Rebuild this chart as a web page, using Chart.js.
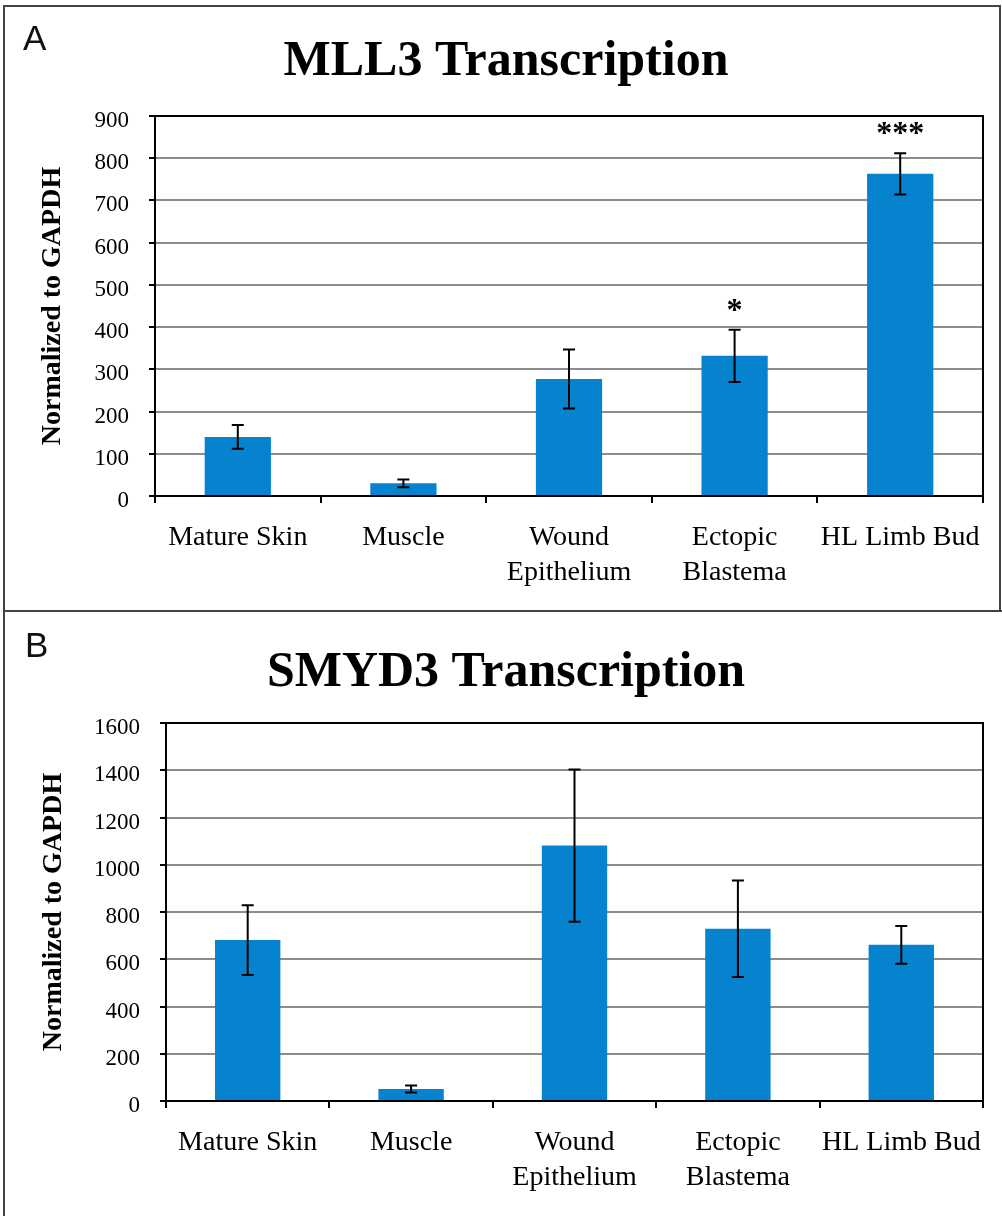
<!DOCTYPE html>
<html>
<head>
<meta charset="utf-8">
<script src="https://cdn.jsdelivr.net/npm/chart.js@4.4.1/dist/chart.umd.min.js"></script>
<style>
    body { margin: 0; background: #fff; width: 1002px; height: 1216px; position: relative; overflow: hidden; }
    .frame { position: absolute; box-sizing: border-box; }
    #frameA { left: 3px; top: 5px; width: 998px; height: 607px; border: 2px solid #444; }
    #frameB { left: 3px; top: 610px; width: 999px; height: 606px; border-left: 2px solid #444; border-top: 2px solid #444; }
    .panel { position: absolute; left: 10px; width: 992px; }
    #panelA { top: 5px; height: 605px; }
    #panelB { top: 612px; height: 604px; }
</style>
</head>
<body>
<div class="frame" id="frameA"></div>
<div class="frame" id="frameB"></div>
<div class="panel" id="panelA"><canvas id="chartA"></canvas></div>
<div class="panel" id="panelB"><canvas id="chartB"></canvas></div>
<script>
'use strict';

// Categories (multi-line labels as arrays)
const categories = [['Mature Skin'], ['Muscle'], ['Wound', 'Epithelium'], ['Ectopic', 'Blastema'], ['HL Limb Bud']];

// Panel A - MLL3
const mll3Values = [140, 30, 277, 332, 763];
const mll3Errors = [28, 9, 70, 62, 49];
const mll3Stars = ['', '', '', '*', '***'];
const mll3Axis = { min: 0, max: 900, step: 100 };

// Panel B - SMYD3
const smyd3Values = [681, 51, 1081, 729, 661];
const smyd3Errors = [148, 15, 322, 204, 80];
const smyd3Stars = ['', '', '', '', ''];
const smyd3Axis = { min: 0, max: 1600, step: 200 };

const SERIF = "'Liberation Serif', 'DejaVu Serif', serif";
const BAR_COLOR = '#0583CF';

/**
 * Draws error bars, significance stars, plot frame and panel letter
 */
const extrasPlugin = {
    id: 'extras',
    afterDatasetsDraw(chart, args, opts) {
        const ctx = chart.ctx;
        const meta = chart.getDatasetMeta(0);
        const y = chart.scales.y;
        const area = chart.chartArea;

        ctx.save();
        ctx.strokeStyle = '#000';
        ctx.lineWidth = 2;

        meta.data.forEach(function(bar, i) {
            const v = opts.values[i];
            const e = opts.errors[i];
            const top = y.getPixelForValue(v + e);
            const bottom = y.getPixelForValue(v - e);
            ctx.beginPath();
            ctx.moveTo(bar.x, top);
            ctx.lineTo(bar.x, bottom);
            ctx.moveTo(bar.x - 6, top);
            ctx.lineTo(bar.x + 6, top);
            ctx.moveTo(bar.x - 6, bottom);
            ctx.lineTo(bar.x + 6, bottom);
            ctx.stroke();

            if (opts.stars[i]) {
                ctx.fillStyle = '#000';
                ctx.font = 'bold 32px ' + SERIF;
                ctx.textAlign = 'center';
                ctx.textBaseline = 'alphabetic';
                ctx.fillText(opts.stars[i], bar.x, top - 10);
            }
        });

        // plot frame
        ctx.strokeRect(area.left, area.top, area.right - area.left, area.bottom - area.top);

        // panel letter
        ctx.fillStyle = '#111';
        ctx.font = "35px 'Liberation Sans', Arial, sans-serif";
        ctx.textAlign = 'left';
        ctx.textBaseline = 'alphabetic';
        ctx.fillText(opts.letter, opts.letterX, 45);
        ctx.restore();
    }
};

function buildChart(canvasId, cfg) {
    return new Chart(document.getElementById(canvasId), {
        type: 'bar',
        data: {
            labels: categories,
            datasets: [{
                data: cfg.values,
                backgroundColor: BAR_COLOR,
                borderWidth: 0,
                barPercentage: 0.4,
                categoryPercentage: 1
            }]
        },
        options: {
            responsive: true,
            maintainAspectRatio: false,
            animation: false,
            layout: { padding: { left: 19, right: 19, top: 0, bottom: 0 } },
            plugins: {
                legend: { display: false },
                tooltip: { enabled: false },
                title: {
                    display: true,
                    text: cfg.title,
                    color: '#000',
                    font: { family: SERIF, size: 50, weight: 'bold', lineHeight: 1.2 },
                    padding: { top: cfg.titleTop, bottom: cfg.titleBottom }
                },
                extras: {
                    values: cfg.values,
                    errors: cfg.errors,
                    stars: cfg.stars,
                    letter: cfg.letter,
                    letterX: cfg.letterX
                }
            },
            scales: {
                x: {
                    afterFit: function(scale) { scale.height = cfg.xHeight; },
                    grid: {
                        offset: true,
                        drawOnChartArea: false,
                        drawTicks: true,
                        tickLength: 7,
                        tickColor: '#000',
                        lineWidth: 2
                    },
                    border: { display: true, color: '#000', width: 2 },
                    ticks: {
                        color: '#000',
                        font: { family: SERIF, size: 28, lineHeight: 1.25 },
                        padding: 17,
                        maxRotation: 0,
                        autoSkip: false
                    }
                },
                y: {
                    min: cfg.axis.min,
                    max: cfg.axis.max,
                    afterFit: function(scale) { scale.width = cfg.yWidth; },
                    grid: {
                        color: '#8c8c8c',
                        lineWidth: 2,
                        tickLength: 6,
                        tickColor: '#000'
                    },
                    border: { display: true, color: '#000', width: 2 },
                    ticks: {
                        stepSize: cfg.axis.step,
                        color: '#000',
                        font: { family: SERIF, size: 23 },
                        padding: 20,
                        labelOffset: 5,
                        callback: function(value) { return String(value); }
                    },
                    title: {
                        display: true,
                        text: 'Normalized to GAPDH',
                        color: '#000',
                        font: { family: SERIF, size: 28, weight: 'bold', lineHeight: 1.2 },
                        padding: { top: cfg.yTitleTop, bottom: 0 }
                    }
                }
            }
        },
        plugins: [extrasPlugin]
    });
}

// y title x = layout left (19) + padding + half line height (16.8)
buildChart('chartA', {
    title: 'MLL3 Transcription',
    values: mll3Values,
    errors: mll3Errors,
    stars: mll3Stars,
    axis: mll3Axis,
    letter: 'A',
    letterX: 13,
    titleTop: 27,
    titleBottom: 24,
    xHeight: 114,
    yWidth: 126,
    yTitleTop: 7
});

buildChart('chartB', {
    title: 'SMYD3 Transcription',
    values: smyd3Values,
    errors: smyd3Errors,
    stars: smyd3Stars,
    axis: smyd3Axis,
    letter: 'B',
    letterX: 15,
    titleTop: 31,
    titleBottom: 20,
    xHeight: 115,
    yWidth: 137,
    yTitleTop: 8
});
</script>
</body>
</html>
